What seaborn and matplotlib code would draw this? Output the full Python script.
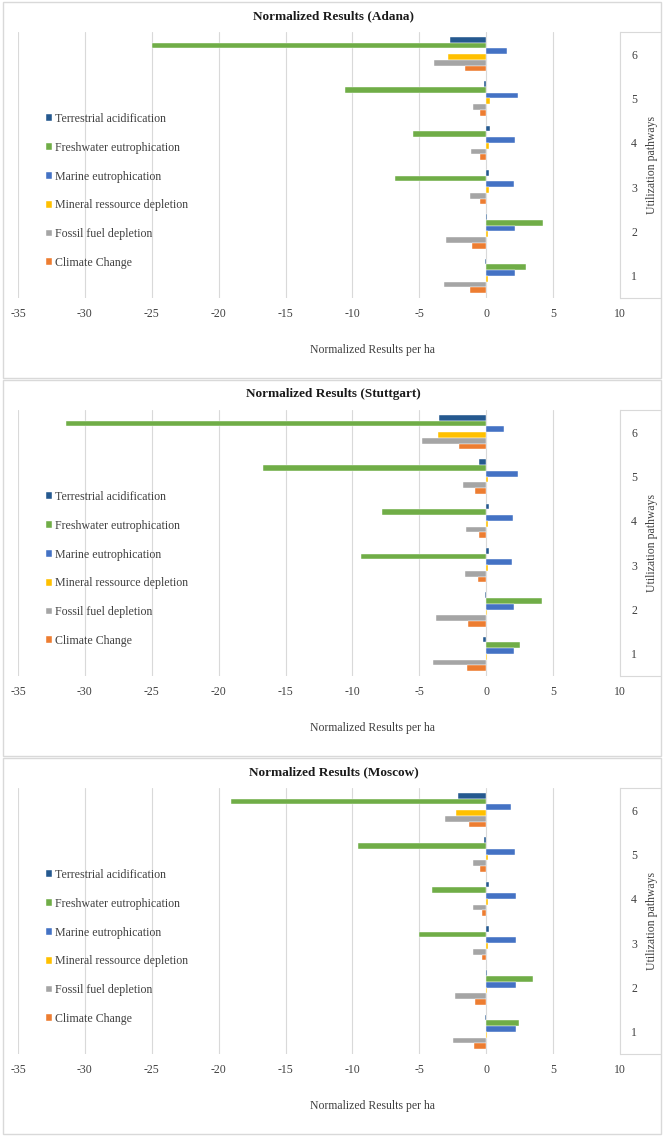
import numpy as np
import pandas as pd
import matplotlib
matplotlib.use("Agg")
import matplotlib.pyplot as plt
from matplotlib.lines import Line2D
from matplotlib.patches import Rectangle
import seaborn as sns

# pathways 1..6
pathways = ["1", "2", "3", "4", "5", "6"]
impacts = ["Terrestrial acidification", "Freshwater eutrophication", "Marine eutrophication",
           "Mineral ressource depletion", "Fossil fuel depletion", "Climate Change"]
colors = ["#25598F", "#70AD47", "#4472C4", "#FFC000", "#A5A5A5", "#ED7D31"]

adana_terr = [-0.10, 0.03, 0.19, 0.29, -0.16, -2.74]
adana_fresh = [2.96, 4.27, -6.85, -5.51, -10.54, -25.0]
adana_marine = [2.17, 2.17, 2.10, 2.13, 2.36, 1.56]
adana_mineral = [0.16, 0.16, 0.19, 0.20, 0.25, -2.87]
adana_fossil = [-3.18, -2.99, -1.21, -1.15, -1.02, -3.89]
adana_climate = [-1.18, -1.05, -0.48, -0.45, -0.48, -1.62]

stutt_terr = [-0.22, -0.10, 0.19, 0.22, -0.54, -3.50]
stutt_fresh = [2.52, 4.14, -9.36, -7.77, -16.69, -31.4]
stutt_marine = [2.04, 2.04, 1.94, 1.97, 2.36, 1.31]
stutt_mineral = [0.08, 0.08, 0.10, 0.10, 0.10, -3.60]
stutt_fossil = [-3.98, -3.73, -1.59, -1.53, -1.72, -4.81]
stutt_climate = [-1.46, -1.37, -0.60, -0.57, -0.86, -2.00]

moscow_terr = [-0.10, 0.03, 0.19, 0.22, -0.13, -2.13]
moscow_fresh = [2.48, 3.50, -5.06, -4.04, -9.62, -19.1]
moscow_marine = [2.23, 2.23, 2.20, 2.20, 2.17, 1.82]
moscow_mineral = [0.08, 0.08, 0.10, 0.10, 0.16, -2.29]
moscow_fossil = [-2.48, -2.32, -0.99, -0.96, -0.99, -3.06]
moscow_climate = [-0.92, -0.83, -0.35, -0.32, -0.45, -1.27]

cities = [
    ("Adana", [adana_terr, adana_fresh, adana_marine, adana_mineral, adana_fossil, adana_climate]),
    ("Stuttgart", [stutt_terr, stutt_fresh, stutt_marine, stutt_mineral, stutt_fossil, stutt_climate]),
    ("Moscow", [moscow_terr, moscow_fresh, moscow_marine, moscow_mineral, moscow_fossil, moscow_climate]),
]

sns.set_style("white")
plt.rcParams["font.family"] = ["Liberation Serif", "DejaVu Serif"]

W, H = 667, 1140
fig = plt.figure(figsize=(W / 100, H / 100), dpi=100)


def fx(px):
    return px / W


def fy(py):
    return 1 - py / H


grid_c = "#D9D9D9"
text_c = "#404040"
panel_off = 378
ax_l, ax_w = 18, 602

for i, (city, series) in enumerate(cities):
    top = i * panel_off
    # panel border
    fig.patches.append(Rectangle((fx(3), fy(top + 378)), fx(658), (378 - 2) / H,
                                 transform=fig.transFigure, fill=False,
                                 edgecolor=grid_c, linewidth=1.0))
    fig.text(0.5, fy(top + 16), f"Normalized Results ({city})", ha="center", va="center",
             fontsize=9.5, fontweight="bold", color="#1a1a1a")

    ax = fig.add_axes([fx(ax_l), fy(top + 298), fx(ax_w), 266 / H])
    rows = []
    for imp, vals in zip(impacts, series):
        for p, v in zip(pathways, vals):
            rows.append({"pathway": p, "impact": imp, "value": v})
    df = pd.DataFrame(rows)
    sns.barplot(data=df, x="value", y="pathway", hue="impact", orient="h",
                order=pathways[::-1], hue_order=impacts, palette=colors,
                width=0.77, ax=ax, edgecolor="white", linewidth=0.3, saturation=1)

    ax.set_xlim(-35, 10)
    ax.set_xticks(np.arange(-35, 11, 5))
    ax.set_xticklabels([str(t) for t in range(-35, 11, 5)])
    ax.xaxis.grid(True, color=grid_c, linewidth=0.8)
    ax.set_axisbelow(True)
    for s in ["top", "left", "bottom"]:
        ax.spines[s].set_visible(False)
    ax.spines["right"].set_color(grid_c)
    ax.spines["right"].set_linewidth(0.8)
    ax.yaxis.tick_right()
    ax.yaxis.set_label_position("right")
    ax.tick_params(axis="both", length=0, labelsize=8.5, labelcolor=text_c)
    ax.tick_params(axis="x", pad=7)
    ax.tick_params(axis="y", pad=8)
    ax.set_xlabel("Normalized Results per ha", fontsize=8.5, color=text_c)
    ax.xaxis.set_label_coords((372 - ax_l) / ax_w, (298 - 344) / 266)
    ax.set_ylabel("Utilization pathways", fontsize=8.5, color=text_c, rotation=90)
    ax.yaxis.set_label_coords((646 - ax_l) / ax_w, 0.5)

    # box around the pathway labels
    for yy in (top + 32, top + 298):
        fig.lines.append(Line2D([fx(620), fx(661)], [fy(yy), fy(yy)],
                                transform=fig.transFigure, color=grid_c, linewidth=0.8))

    handles, labels = ax.get_legend_handles_labels()
    ax.legend(handles, labels, loc="center left",
              bbox_to_anchor=((41 - ax_l) / ax_w, (298 - 191) / 266),
              frameon=False, fontsize=8.6, labelcolor=text_c,
              handlelength=0.5, handleheight=0.5, handletextpad=0.3,
              labelspacing=1.41, borderaxespad=0)

fig.savefig("out.png", dpi=100)
